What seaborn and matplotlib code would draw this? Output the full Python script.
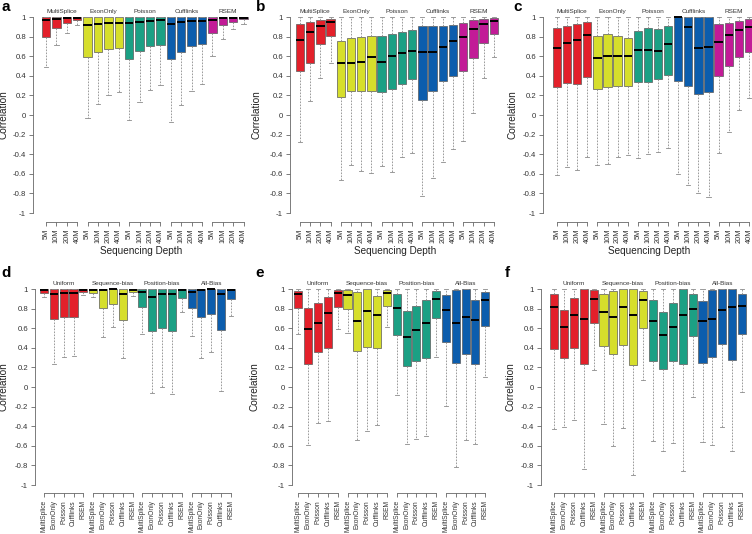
import matplotlib
matplotlib.use("Agg")
import matplotlib.pyplot as plt
import matplotlib.transforms as mtransforms
import pandas as pd
import seaborn as sns

plt.rcParams["font.family"] = ["Liberation Sans", "DejaVu Sans"]

depths = ["5M", "10M", "20M", "40M"]
methods = ["MultiSplice", "ExonOnly", "Poisson", "Cufflinks", "RSEM"]
biases = ["Uniform", "Sequence-bias", "Position-bias", "All-Bias"]
group_colors = ["#E3202A", "#D6DE2C", "#1BA084", "#0C5DAD", "#C21B97"]

yticks = [-1, -0.8, -0.6, -0.4, -0.2, 0, 0.2, 0.4, 0.6, 0.8, 1]
ytick_labels = ["-1", "-0.8", "-0.6", "-0.4", "-0.2", "0", "0.2", "0.4", "0.6", "0.8", "1"]

# five-number summaries: (lower whisker, Q1, median, Q3, upper whisker)
# panels a-c: method blocks, each 5M / 10M / 20M / 40M
panel_a = [
    (0.49, 0.795, 0.970, 0.995, 1.0), (0.715, 0.885, 0.980, 0.997, 1.0),
    (0.835, 0.935, 0.985, 0.998, 1.0), (0.92, 0.97, 0.99, 0.999, 1.0),
    (-0.03, 0.59, 0.92, 1.0, 1.0), (0.11, 0.64, 0.925, 1.0, 1.0),
    (0.205, 0.677, 0.94, 1.0, 1.0), (0.233, 0.688, 0.94, 1.0, 1.0),
    (-0.053, 0.575, 0.935, 1.0, 1.0), (0.134, 0.65, 0.949, 1.0, 1.0),
    (0.256, 0.70, 0.959, 1.0, 1.0), (0.304, 0.718, 0.966, 1.0, 1.0),
    (-0.076, 0.569, 0.932, 1.0, 1.0), (0.10, 0.64, 0.949, 1.0, 1.0),
    (0.246, 0.70, 0.959, 1.0, 1.0), (0.314, 0.725, 0.959, 1.0, 1.0),
    (0.60, 0.84, 0.97, 1.0, 1.0), (0.775, 0.915, 0.985, 1.0, 1.0),
    (0.877, 0.95, 0.99, 1.0, 1.0), (0.93, 0.975, 0.993, 1.0, 1.0),
]
panel_b = [
    (-0.276, 0.446, 0.762, 0.929, 1.0), (0.143, 0.53, 0.847, 0.946, 1.0),
    (0.374, 0.724, 0.908, 0.966, 1.0), (0.531, 0.803, 0.949, 0.983, 1.0),
    (-0.663, 0.184, 0.534, 0.755, 1.0), (-0.51, 0.245, 0.531, 0.782, 1.0),
    (-0.575, 0.245, 0.541, 0.793, 1.0), (-0.592, 0.245, 0.588, 0.803, 1.0),
    (-0.517, 0.235, 0.544, 0.803, 1.0), (-0.582, 0.262, 0.605, 0.827, 1.0),
    (-0.432, 0.313, 0.633, 0.847, 1.0), (-0.384, 0.367, 0.656, 0.864, 1.0),
    (-0.83, 0.15, 0.639, 0.905, 1.0), (-0.643, 0.241, 0.643, 0.905, 1.0),
    (-0.48, 0.35, 0.697, 0.912, 1.0), (-0.35, 0.401, 0.759, 0.922, 1.0),
    (-0.262, 0.452, 0.796, 0.939, 1.0), (0.017, 0.585, 0.878, 0.966, 1.0),
    (0.374, 0.731, 0.932, 0.983, 1.0), (0.592, 0.83, 0.963, 0.993, 1.0),
]
panel_c = [
    (-0.61, 0.285, 0.68, 0.89, 1.0), (-0.53, 0.33, 0.73, 0.91, 1.0),
    (-0.56, 0.32, 0.765, 0.93, 1.0), (-0.425, 0.385, 0.815, 0.945, 1.0),
    (-0.515, 0.27, 0.585, 0.81, 1.0), (-0.505, 0.285, 0.605, 0.825, 1.0),
    (-0.43, 0.30, 0.60, 0.805, 1.0), (-0.405, 0.295, 0.605, 0.79, 1.0),
    (-0.435, 0.335, 0.66, 0.855, 1.0), (-0.395, 0.335, 0.66, 0.89, 1.0),
    (-0.375, 0.365, 0.655, 0.88, 1.0), (-0.335, 0.405, 0.725, 0.91, 1.0),
    (-0.60, 0.345, 0.995, 1.0, 1.0), (-0.71, 0.295, 0.895, 1.0, 1.0),
    (-0.80, 0.215, 0.68, 1.0, 1.0), (-0.84, 0.235, 0.69, 1.0, 1.0),
    (-0.385, 0.40, 0.74, 0.925, 1.0), (-0.17, 0.495, 0.815, 0.94, 1.0),
    (0.05, 0.595, 0.865, 0.96, 1.0), (0.17, 0.645, 0.895, 0.98, 1.0),
]
# panels d-f: bias blocks, each MultiSplice / ExonOnly / Poisson / Cufflinks / RSEM
panel_d = [
    (0.915, 0.963, 0.985, 1.0, 1.0), (0.235, 0.694, 0.946, 1.0, 1.0),
    (0.303, 0.718, 0.963, 1.0, 1.0), (0.316, 0.718, 0.959, 1.0, 1.0),
    (0.94, 0.973, 0.99, 1.0, 1.0),
    (0.92, 0.963, 0.99, 1.0, 1.0), (0.51, 0.803, 0.99, 1.0, 1.0),
    (0.615, 0.844, 0.997, 1.0, 1.0), (0.30, 0.687, 0.952, 1.0, 1.0),
    (0.932, 0.973, 0.99, 1.0, 1.0),
    (0.545, 0.82, 0.973, 1.0, 1.0), (-0.058, 0.575, 0.915, 1.0, 1.0),
    (0.003, 0.605, 0.946, 1.0, 1.0), (-0.068, 0.571, 0.946, 1.0, 1.0),
    (0.762, 0.905, 0.99, 1.0, 1.0),
    (0.52, 0.81, 0.973, 1.0, 1.0), (0.293, 0.718, 0.99, 1.0, 1.0),
    (0.354, 0.742, 0.997, 1.0, 1.0), (-0.04, 0.582, 0.946, 1.0, 1.0),
    (0.725, 0.895, 0.99, 1.0, 1.0),
]
panel_e = [
    (0.537, 0.803, 0.946, 0.983, 1.0), (-0.595, 0.235, 0.588, 0.803, 1.0),
    (-0.365, 0.36, 0.656, 0.862, 1.0), (-0.345, 0.40, 0.76, 0.92, 1.0),
    (0.59, 0.82, 0.955, 0.99, 1.0),
    (0.55, 0.80, 0.939, 0.99, 1.0), (-0.54, 0.365, 0.675, 0.97, 1.0),
    (-0.45, 0.405, 0.78, 1.0, 1.0), (-0.385, 0.395, 0.73, 0.925, 1.0),
    (0.615, 0.83, 0.955, 0.985, 1.0),
    (-0.08, 0.535, 0.81, 0.945, 1.0), (-0.58, 0.215, 0.515, 0.78, 1.0),
    (-0.53, 0.27, 0.58, 0.83, 1.0), (-0.50, 0.30, 0.65, 0.885, 1.0),
    (0.31, 0.70, 0.90, 0.975, 1.0),
    (-0.19, 0.46, 0.79, 0.935, 1.0), (-0.82, 0.25, 0.655, 0.985, 1.0),
    (-0.54, 0.34, 0.71, 0.995, 1.0), (-0.58, 0.235, 0.685, 0.885, 1.0),
    (0.10, 0.62, 0.885, 0.965, 1.0),
]
panel_f = [
    (-0.43, 0.385, 0.815, 0.945, 1.0), (-0.405, 0.295, 0.61, 0.79, 1.0),
    (-0.335, 0.40, 0.73, 0.91, 1.0), (-0.84, 0.235, 0.69, 1.0, 1.0),
    (0.17, 0.65, 0.895, 0.985, 1.0),
    (-0.375, 0.415, 0.77, 0.945, 1.0), (-0.60, 0.335, 0.715, 0.98, 1.0),
    (-0.415, 0.425, 0.815, 1.0, 1.0), (-0.90, 0.225, 0.73, 1.0, 1.0),
    (0.07, 0.605, 0.885, 0.975, 1.0),
    (-0.55, 0.27, 0.675, 0.885, 1.0), (-0.65, 0.18, 0.53, 0.77, 1.0),
    (-0.57, 0.27, 0.61, 0.855, 1.0), (-0.86, 0.23, 0.73, 1.0, 1.0),
    (-0.10, 0.525, 0.80, 0.945, 1.0),
    (-0.56, 0.24, 0.67, 0.88, 1.0), (-0.59, 0.31, 0.695, 0.985, 1.0),
    (-0.41, 0.435, 0.79, 0.995, 1.0), (-0.65, 0.275, 0.82, 1.0, 1.0),
    (-0.05, 0.54, 0.83, 0.95, 1.0),
]

W, H = 752, 534
fig = plt.figure(figsize=(W / 100, H / 100), dpi=100)


def box_frame(stats, groups, n_per_group):
    rows = []
    for i, five in enumerate(stats):
        for v in five:
            rows.append({"pos": i, "group": groups[i // n_per_group], "value": v})
    return pd.DataFrame(rows)


def draw_panel(stats, groups, tick_names, layout, tick_size, xlabel=None):
    # layout in pixels: first box centre, box spacing, axis x, y of +1, y of -1, bracket y, ylabel x
    x0, dx, axis_x, y_top, y_bot, y_br, ylab_x = layout
    per_unit = (y_bot - y_top) / 2
    ylo = -1 - (y_br - y_bot) / per_unit
    yhi = 1.04
    xlo = (axis_x - x0) / dx
    xhi = 19.6
    left = x0 + xlo * dx
    width = (xhi - xlo) * dx
    top = y_top - (yhi - 1) * per_unit
    height = y_br - top
    ax = fig.add_axes([left / W, 1 - (top + height) / H, width / W, height / H])

    m = len(tick_names)
    df = box_frame(stats, groups, m)
    palette = dict(zip(groups, group_colors))
    sns.boxplot(
        data=df, x="pos", y="value", hue="group", palette=palette,
        dodge=False, whis=(0, 100), width=0.82, saturation=1,
        showfliers=False, legend=False, ax=ax,
        linecolor="#5a5a5a", linewidth=0.5,
        medianprops=dict(color="black", linewidth=1.4),
        whiskerprops=dict(color="#8a8a8a", linewidth=0.6, linestyle=(0, (2, 1.6))),
        capprops=dict(color="#8a8a8a", linewidth=0.6),
    )
    ax.set_xlim(xlo, xhi)
    ax.set_ylim(ylo, yhi)

    for s in ["top", "right", "bottom"]:
        ax.spines[s].set_visible(False)
    ax.spines["left"].set_bounds(-1, 1)
    ax.spines["left"].set_color("#666666")
    ax.spines["left"].set_linewidth(0.6)
    ax.set_yticks(yticks, ytick_labels)
    ax.tick_params(axis="y", length=3, width=0.6, color="#666666",
                   labelsize=5.6, labelcolor="#333333", pad=2)

    n = len(stats)
    ax.set_xticks(range(n), [tick_names[i % m] for i in range(n)], rotation=90)
    ax.tick_params(axis="x", length=3, width=0.6, color="#666666",
                   labelsize=tick_size, labelcolor="#333333", pad=2)

    trans = mtransforms.blended_transform_factory(ax.transData, ax.transAxes)
    for k, g in enumerate(groups):
        ax.plot([k * m, k * m + m - 1], [0, 0], transform=trans, color="#666666",
                linewidth=0.6, clip_on=False)
        ax.text(k * m + (m - 1) / 2, 1.06, g, ha="center", va="center",
                fontsize=4.6, color="#333333", clip_on=False)

    ax.set_ylabel("Correlation", fontsize=7.2, color="#222222")
    ax.yaxis.set_label_coords((ylab_x - left) / width, (y_br - (y_top + y_bot) / 2) / height)
    if xlabel:
        ax.set_xlabel(xlabel, fontsize=7.2, color="#222222", labelpad=2)
    else:
        ax.set_xlabel("")
    return ax


draw_panel(panel_a, methods, depths, (46, 10.4, 33, 17, 213, 221.7, 8.5), 5.3, "Sequencing Depth")
draw_panel(panel_b, methods, depths, (300, 10.2, 290, 17, 213, 221.7, 262), 5.3, "Sequencing Depth")
draw_panel(panel_c, methods, depths, (557, 10.1, 543, 17, 213, 221.7, 518), 5.3, "Sequencing Depth")
draw_panel(panel_d, biases, methods, (44, 9.84, 35, 289, 485, 493, 8.5), 4.8)
draw_panel(panel_e, biases, methods, (298.3, 9.84, 292, 289, 485, 493, 260), 4.8)
draw_panel(panel_f, biases, methods, (554, 9.9, 541, 289, 485, 493, 515), 4.8)

letters = [("a", 1, 0), ("b", 256, 0), ("c", 513, 0), ("d", 1, 266), ("e", 255, 266), ("f", 505, 266)]
for name, px, py in letters:
    fig.text(px / W, 1 - py / H, name, fontsize=11, fontweight="bold", ha="left", va="top")

fig.savefig("out.png", dpi=100)
